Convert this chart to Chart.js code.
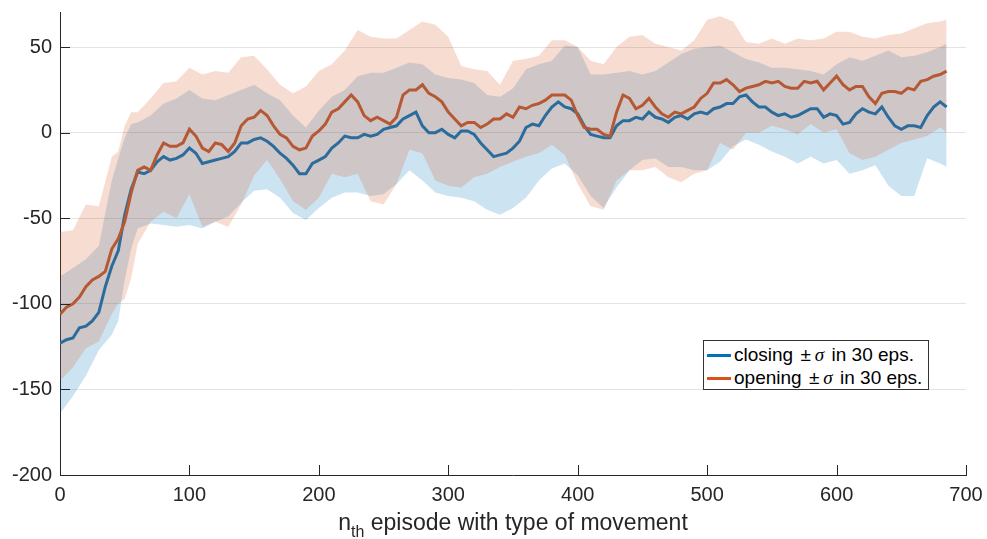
<!DOCTYPE html>
<html>
<head>
<meta charset="utf-8">
<script src="https://cdn.jsdelivr.net/npm/chart.js@4.4.0/dist/chart.umd.min.js"></script>
<style>
  html, body { margin: 0; padding: 0; background: #fff; }
  #wrap { position: relative; width: 987px; height: 539px; }
  #xTitle {
    position: absolute; left: 60px; width: 906px; top: 511px;
    text-align: center; white-space: nowrap;
    font: 23px "Liberation Sans", Arial, sans-serif; line-height: 23px; color: #262626;
  }
  #xTitle sub { font-size: 16px; vertical-align: -7px; line-height: 0; }
  #legend {
    position: absolute; left: 703px; top: 340px; width: 224px; height: 48px;
    border: 1px solid #333; background: #fff;
    font: 19px "Liberation Sans", Arial, sans-serif; color: #000;
  }
  .row { position: absolute; left: 3px; height: 22px; line-height: 22px; white-space: nowrap; }
  .swatch { display: inline-block; width: 24px; height: 3px; vertical-align: middle; margin-right: 3px; }
  .sig { font-family: "Liberation Serif", serif; font-style: italic; margin: 0 2px; }
  .pm { margin: 0 2px; }
</style>
</head>
<body>
<div id="wrap">
  <canvas id="rewardChart" width="987" height="539"></canvas>
  <div id="xTitle">n<sub>th</sub> episode with type of movement</div>
  <div id="legend">
    <div class="row" style="top:3px"><span class="swatch" style="background:#0072BD"></span>closing <span class="pm">&plusmn;</span><span class="sig">&sigma;</span> in 30 eps.</div>
    <div class="row" style="top:26px"><span class="swatch" style="background:#D95319"></span>opening <span class="pm">&plusmn;</span><span class="sig">&sigma;</span> in 30 eps.</div>
  </div>
</div>
<script>
// 1. Data
const xTicks = [0, 100, 200, 300, 400, 500, 600, 700];
const yTicks = [-200, -150, -100, -50, 0, 50];

// mean lines, every 5 episodes
const lineEpisodes = [
    0, 5, 10, 15, 20, 25, 30, 35, 40, 45,
    50, 55, 60, 65, 70, 75, 80, 85, 90, 95,
    100, 105, 110, 115, 120, 125, 130, 135, 140, 145,
    150, 155, 160, 165, 170, 175, 180, 185, 190, 195,
    200, 205, 210, 215, 220, 225, 230, 235, 240, 245,
    250, 255, 260, 265, 270, 275, 280, 285, 290, 295,
    300, 305, 310, 315, 320, 325, 330, 335, 340, 345,
    350, 355, 360, 365, 370, 375, 380, 385, 390, 395,
    400, 405, 410, 415, 420, 425, 430, 435, 440, 445,
    450, 455, 460, 465, 470, 475, 480, 485, 490, 495,
    500, 505, 510, 515, 520, 525, 530, 535, 540, 545,
    550, 555, 560, 565, 570, 575, 580, 585, 590, 595,
    600, 605, 610, 615, 620, 625, 630, 635, 640, 645,
    650, 655, 660, 665, 670, 675, 680, 685
];
const closing = [
    -123, -121, -120, -114, -113, -110, -105, -90, -78, -69,
    -48, -33, -23, -24, -22, -17, -14, -16, -15, -13,
    -9, -12, -18, -17, -16, -15, -14, -11, -6, -6,
    -4, -3, -5, -8, -12, -15, -19, -24, -24, -18,
    -16, -14, -9, -6, -2, -3, -3, -1, -2, -1,
    2, 3, 4, 8, 10, 12, 4, 0, 0, 2,
    -1, -3, 1, 1, -1, -6, -10, -14, -13, -12,
    -9, -5, 3, 5, 4, 10, 15, 18, 15, 14,
    11, 4, -1, -2, -3, -3, 4, 7, 7, 9,
    8, 12, 9, 8, 6, 9, 10, 8, 11, 12,
    11, 14, 15, 17, 17, 21, 22, 18, 15, 15,
    12, 10, 11, 9, 10, 12, 14, 14, 9, 11,
    10, 5, 6, 11, 14, 12, 11, 15, 9, 4,
    2, 4, 4, 3, 10, 15, 18, 15
];
const opening = [
    -106, -102, -100, -96, -90, -86, -84, -81, -68, -62,
    -52, -35, -22, -20, -22, -13, -6, -8, -8, -6,
    2, -2, -9, -11, -6, -7, -11, -6, 4, 8,
    9, 13, 10, 4, -1, -3, -8, -10, -9, -2,
    1, 5, 12, 14, 18, 22, 18, 10, 7, 9,
    7, 5, 9, 22, 25, 25, 28, 23, 21, 18,
    12, 8, 4, 6, 6, 3, 5, 8, 8, 11,
    9, 15, 14, 16, 17, 19, 22, 22, 22, 19,
    10, 3, 2, 2, -1, -2, 12, 22, 20, 14,
    16, 20, 15, 11, 9, 12, 11, 13, 15, 20,
    23, 29, 29, 31, 28, 24, 26, 27, 28, 30,
    29, 30, 27, 26, 26, 30, 29, 30, 25, 29,
    33, 28, 25, 27, 27, 21, 17, 23, 24, 24,
    23, 26, 25, 30, 31, 33, 34, 36
];

// +/- sigma bands, sampled coarser
const bandEpisodes = [
    0, 10, 20, 30, 40, 45, 50, 55,
    60, 70, 80, 90, 100,
    110, 120, 130, 140, 150, 160, 170, 180, 190, 200,
    210, 220, 230, 240, 250, 260, 270, 280, 290, 300,
    310, 320, 330, 340, 350, 360, 370, 380, 390, 400,
    410, 420, 430, 440, 450, 460, 470, 480, 490, 500,
    510, 520, 530, 540, 550, 560, 570, 580, 590, 600,
    610, 620, 630, 640, 650, 660, 670, 680,
    685
];
const closingUpper = [
    -84, -79, -74, -66, -28, -15, -3, 5,
    6, 10, 17, 20, 25,
    20, 19, 22, 25, 28, 23, 19, 10, 3, 13,
    21, 25, 33, 35, 35, 38, 41, 40, 34, 32,
    31, 29, 22, 21, 26, 37, 40, 42, 51, 50,
    34, 34, 35, 36, 34, 36, 41, 46, 49, 50,
    51, 47, 43, 41, 38, 38, 37, 36, 34, 40,
    44, 42, 45, 48, 44, 45, 47, 50,
    52
];
const closingLower = [
    -164, -154, -142, -127, -118, -110, -86, -68,
    -56, -53, -54, -55, -54,
    -56, -52, -49, -41, -34, -33, -38, -47, -51, -44,
    -38, -35, -35, -37, -36, -30, -22, -28, -35, -37,
    -38, -40, -45, -48, -44, -38, -28, -21, -18, -25,
    -37, -44, -32, -22, -16, -15, -20, -20, -22, -22,
    -17, -8, -4, -7, -11, -14, -18, -14, -18, -16,
    -24, -22, -19, -31, -37, -37, -15, -18,
    -20
];
const openingUpper = [
    -58, -57, -42, -43, -14, -11, 4, 12,
    12, 20, 29, 30, 38,
    34, 36, 35, 44, 45, 37, 28, 23, 27, 36,
    40, 48, 60, 56, 55, 55, 60, 65, 63, 56,
    39, 37, 36, 28, 42, 43, 45, 54, 54, 50,
    42, 40, 50, 56, 57, 52, 50, 48, 54, 66,
    68, 65, 53, 52, 55, 52, 55, 54, 55, 59,
    59, 56, 55, 57, 58, 61, 64, 65,
    66
];
const openingLower = [
    -145, -137, -126, -122, -106, -100, -97, -85,
    -65, -52, -46, -50, -36,
    -55, -52, -55, -42, -25, -16, -27, -40, -45, -38,
    -24, -26, -24, -40, -42, -30, -10, -12, -28, -31,
    -32, -26, -24, -20, -17, -14, -12, -7, -13, -30,
    -43, -45, -28, -22, -22, -20, -26, -29, -24, -22,
    -6, -10, 0, 0, 4, 2, -1, 5, 0, 2,
    -12, -16, -14, -10, -6, -4, -2, 3,
    0
];

// 2. Helpers
const toPoints = (xs, ys) => xs.map((x, i) => ({ x: x, y: ys[i] }));
const axisColor = '#262626';
const tickFont = { family: '"Liberation Sans", Arial, sans-serif', size: 20 };

// MATLAB style tick marks pointing into the plot
const insideTicks = {
    id: 'insideTicks',
    afterDraw(chart) {
        const { ctx, chartArea, scales } = chart;
        ctx.save();
        ctx.strokeStyle = axisColor;
        ctx.lineWidth = 1;
        ctx.beginPath();
        yTicks.forEach(v => {
            const y = Math.round(scales.y.getPixelForValue(v)) + 0.5;
            ctx.moveTo(chartArea.left, y);
            ctx.lineTo(chartArea.left + 10, y);
        });
        xTicks.forEach(v => {
            const x = Math.round(scales.x.getPixelForValue(v)) + 0.5;
            ctx.moveTo(x, chartArea.bottom);
            ctx.lineTo(x, chartArea.bottom - 10);
        });
        ctx.stroke();
        ctx.restore();
    }
};

// 3. Chart
const band = (ys, color, fill, order) => ({
    data: toPoints(bandEpisodes, ys),
    borderColor: 'rgba(0,0,0,0)',
    borderWidth: 0,
    backgroundColor: color,
    pointRadius: 0,
    fill: fill,
    order: order
});

new Chart(document.getElementById('rewardChart'), {
    type: 'line',
    data: {
        datasets: [
            { label: 'closing', data: toPoints(lineEpisodes, closing), borderColor: '#0072BD',
              borderWidth: 3, pointRadius: 0, fill: false, order: 3 },
            { label: 'opening', data: toPoints(lineEpisodes, opening), borderColor: '#D95319',
              borderWidth: 3, pointRadius: 0, fill: false, order: 2 },
            band(closingUpper, 'rgba(0,114,189,0.2)', '+1', 1),
            band(closingLower, 'rgba(0,0,0,0)', false, 1),
            band(openingUpper, 'rgba(217,83,25,0.2)', '+1', 0),
            band(openingLower, 'rgba(0,0,0,0)', false, 0)
        ]
    },
    options: {
        responsive: false,
        animation: false,
        events: [],
        layout: { padding: { top: 12, right: 21, left: 0, bottom: 0 } },
        plugins: { legend: { display: false }, tooltip: { enabled: false } },
        scales: {
            x: {
                type: 'linear',
                min: 0,
                max: 700,
                afterBuildTicks: s => { s.ticks = xTicks.map(v => ({ value: v })); },
                afterFit: s => { s.height = 64; s.paddingLeft = 0; s.paddingRight = 0; },
                grid: { color: 'rgba(0,0,0,0)', drawTicks: false },
                border: { display: true, color: axisColor, width: 1 },
                ticks: { color: axisColor, font: tickFont, padding: 8, maxRotation: 0 }
            },
            y: {
                min: -200,
                max: 70.5,
                afterBuildTicks: s => { s.ticks = yTicks.map(v => ({ value: v })); },
                afterFit: s => { s.width = 60; s.paddingTop = 0; s.paddingBottom = 0; },
                grid: { color: '#e3e3e3', drawTicks: false },
                border: { display: true, color: axisColor, width: 1 },
                ticks: { color: axisColor, font: tickFont, padding: 8 }
            }
        }
    },
    plugins: [insideTicks]
});
</script>
</body>
</html>
